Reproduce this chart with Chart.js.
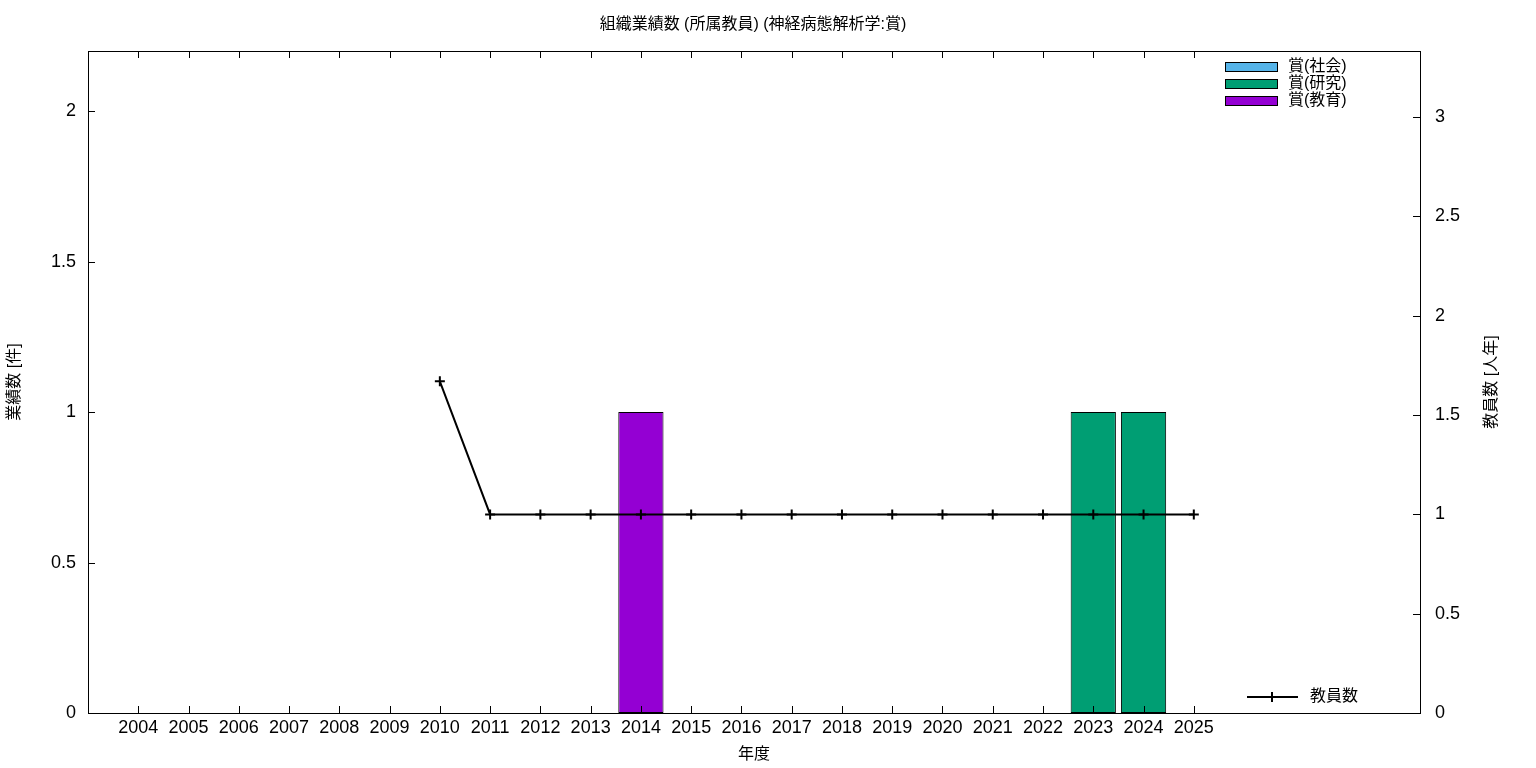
<!DOCTYPE html>
<html lang="ja">
<head>
    <meta charset="UTF-8">
    <title>組織業績数 (所属教員) (神経病態解析学:賞)</title>
    <script src="https://cdn.jsdelivr.net/npm/chart.js"></script>
    <style>
        body {
            margin: 0;
            padding: 0;
            background: #fff;
        }
        .wrap {
            width: 1536px;
            height: 768px;
        }
    </style>
</head>
<body>
    <div class="wrap">
        <canvas id="chart" width="1536" height="768"></canvas>
    </div>

    <script>
        // 年度
        const years = [2004, 2005, 2006, 2007, 2008, 2009, 2010, 2011, 2012, 2013, 2014,
                       2015, 2016, 2017, 2018, 2019, 2020, 2021, 2022, 2023, 2024, 2025];
        // 賞 件数
        const awardSocial   = [0, 0, 0, 0, 0, 0, 0, 0, 0, 0, 0, 0, 0, 0, 0, 0, 0, 0, 0, 0, 0, 0];
        const awardResearch = [0, 0, 0, 0, 0, 0, 0, 0, 0, 0, 0, 0, 0, 0, 0, 0, 0, 0, 0, 1, 1, 0];
        const awardEducation = [0, 0, 0, 0, 0, 0, 0, 0, 0, 0, 1, 0, 0, 0, 0, 0, 0, 0, 0, 0, 0, 0];
        // 教員数 [人年]
        const staff = [null, null, null, null, null, null, 1.67, 1, 1, 1, 1,
                       1, 1, 1, 1, 1, 1, 1, 1, 1, 1, 1];

        const leftTicks = [0, 0.5, 1, 1.5, 2];
        const rightTicks = [0, 0.5, 1, 1.5, 2, 2.5, 3];

        const FONT = "'Liberation Sans', 'Noto Sans CJK JP', sans-serif";

        const toXY = arr => arr.map((v, i) => ({ x: years[i], y: v }));

        // gnuplot風の枠・目盛り・凡例を描く
        const framePlugin = {
            id: 'frame',
            afterDraw(chart) {
                const ctx = chart.ctx;
                const a = chart.chartArea;
                const x = chart.scales.x, y = chart.scales.y, y1 = chart.scales.y1;
                ctx.save();
                ctx.strokeStyle = '#000';
                ctx.lineWidth = 1;
                ctx.strokeRect(a.left + 0.5, a.top + 0.5, a.right - a.left, a.bottom - a.top);

                ctx.beginPath();
                years.forEach(yr => {
                    const px = Math.round(x.getPixelForValue(yr)) + 0.5;
                    ctx.moveTo(px, a.bottom); ctx.lineTo(px, a.bottom - 7);
                    ctx.moveTo(px, a.top); ctx.lineTo(px, a.top + 7);
                });
                leftTicks.forEach(v => {
                    const py = Math.round(y.getPixelForValue(v)) + 0.5;
                    ctx.moveTo(a.left, py); ctx.lineTo(a.left + 7, py);
                });
                rightTicks.forEach(v => {
                    const py = Math.round(y1.getPixelForValue(v)) + 0.5;
                    ctx.moveTo(a.right, py); ctx.lineTo(a.right - 7, py);
                });
                ctx.stroke();

                ctx.fillStyle = '#000';
                ctx.textBaseline = 'middle';

                // タイトル
                ctx.font = '16px ' + FONT;
                ctx.textAlign = 'center';
                ctx.fillText('組織業績数 (所属教員) (神経病態解析学:賞)', 753, 25);

                // 軸タイトル
                ctx.font = '16px ' + FONT;
                ctx.fillText('年度', (a.left + a.right) / 2, 755);
                ctx.save();
                ctx.translate(15, (a.top + a.bottom) / 2);
                ctx.rotate(-Math.PI / 2);
                ctx.fillText('業績数 [件]', 0, 0);
                ctx.restore();
                ctx.save();
                ctx.translate(1492, (a.top + a.bottom) / 2);
                ctx.rotate(-Math.PI / 2);
                ctx.fillText('教員数 [人年]', 0, 0);
                ctx.restore();

                // 凡例 (棒)
                ctx.font = '16px ' + FONT;
                ctx.textAlign = 'left';
                const bars = chart.data.datasets.filter(d => d.type === 'bar');
                bars.forEach((d, i) => {
                    const cy = 67 + i * 17;
                    ctx.fillStyle = d.backgroundColor;
                    ctx.fillRect(1225, cy - 4.5, 52, 9);
                    ctx.strokeStyle = '#000';
                    ctx.strokeRect(1225.5, cy - 4.5, 52, 9);
                    ctx.fillStyle = '#000';
                    ctx.fillText(d.label, 1288, cy);
                });

                // 凡例 (線)
                const ly = 697;
                ctx.lineWidth = 2;
                ctx.beginPath();
                ctx.moveTo(1247, ly); ctx.lineTo(1298, ly);
                ctx.moveTo(1272, ly - 5); ctx.lineTo(1272, ly + 5);
                ctx.stroke();
                ctx.fillText('教員数', 1310, ly);
                ctx.restore();
            }
        };

        const ctx = document.getElementById('chart').getContext('2d');
        new Chart(ctx, {
            data: {
                datasets: [
                    {
                        type: 'line',
                        label: '教員数',
                        data: toXY(staff),
                        yAxisID: 'y1',
                        borderColor: '#000',
                        backgroundColor: '#000',
                        borderWidth: 2,
                        pointStyle: 'cross',
                        pointRadius: 5,
                        pointBorderWidth: 2,
                        spanGaps: false,
                        order: 0
                    },
                    {
                        type: 'bar',
                        label: '賞(社会)',
                        data: toXY(awardSocial),
                        yAxisID: 'y',
                        backgroundColor: '#56b4e9',
                        borderColor: '#000',
                        borderWidth: 1,
                        order: 1
                    },
                    {
                        type: 'bar',
                        label: '賞(研究)',
                        data: toXY(awardResearch),
                        yAxisID: 'y',
                        backgroundColor: '#009e73',
                        borderColor: '#000',
                        borderWidth: 1,
                        order: 1
                    },
                    {
                        type: 'bar',
                        label: '賞(教育)',
                        data: toXY(awardEducation),
                        yAxisID: 'y',
                        backgroundColor: '#9400d3',
                        borderColor: '#000',
                        borderWidth: 1,
                        order: 1
                    }
                ]
            },
            options: {
                responsive: false,
                animation: false,
                layout: { padding: { top: 51, left: 0, right: 0, bottom: 0 } },
                datasets: {
                    bar: { categoryPercentage: 0.9, barPercentage: 1, borderSkipped: false }
                },
                plugins: {
                    legend: { display: false },
                    tooltip: { enabled: false },
                    title: { display: false }
                },
                scales: {
                    x: {
                        type: 'linear',
                        stacked: true,
                        offset: false,
                        min: 2003,
                        max: 2029.5,
                        grid: { display: false, drawTicks: false },
                        border: { display: false },
                        afterBuildTicks: s => { s.ticks = years.map(v => ({ value: v })); },
                        afterFit: s => { s.height = 55; },
                        ticks: {
                            padding: 4,
                            color: '#000',
                            maxRotation: 0,
                            autoSkip: false,
                            font: { family: FONT, size: 18 },
                            callback: v => String(v)
                        }
                    },
                    y: {
                        position: 'left',
                        stacked: true,
                        min: 0,
                        max: 2.2,
                        grid: { display: false, drawTicks: false },
                        border: { display: false },
                        afterBuildTicks: s => { s.ticks = leftTicks.map(v => ({ value: v })); },
                        afterFit: s => { s.width = 88; },
                        ticks: {
                            padding: 12,
                            color: '#000',
                            font: { family: FONT, size: 18 },
                            callback: v => String(v)
                        }
                    },
                    y1: {
                        position: 'right',
                        min: 0,
                        max: 3.333,
                        grid: { display: false, drawTicks: false },
                        border: { display: false },
                        afterBuildTicks: s => { s.ticks = rightTicks.map(v => ({ value: v })); },
                        afterFit: s => { s.width = 116; },
                        ticks: {
                            padding: 15,
                            color: '#000',
                            font: { family: FONT, size: 18 },
                            callback: v => String(v)
                        }
                    }
                }
            },
            plugins: [framePlugin]
        });
    </script>
</body>
</html>
